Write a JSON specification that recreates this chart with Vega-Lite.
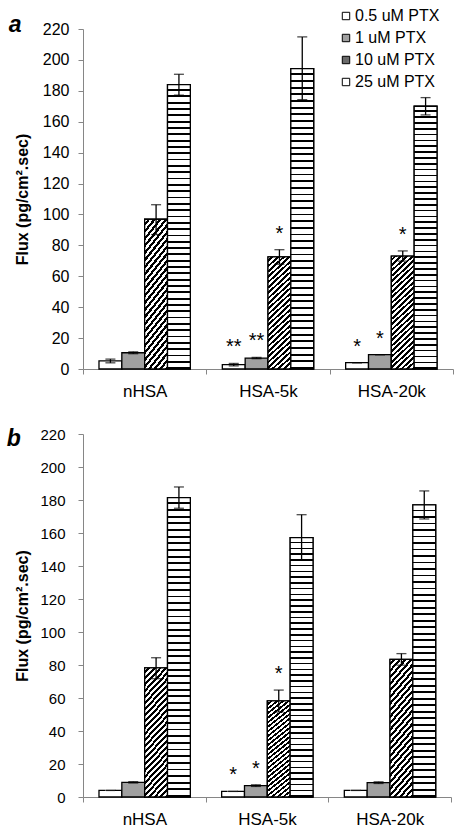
{
  "$schema": "https://vega.github.io/schema/vega-lite/v6.json",
  "padding": {"left": 6, "top": 8, "right": 2, "bottom": 2},
  "background": "white",
  "config": {
    "font": "Liberation Sans",
    "view": {"stroke": null},
    "axis": {"domainColor": "#868686", "tickColor": "#868686", "labelColor": "#000", "titleColor": "#000", "grid": false, "labelFont": "Liberation Sans", "titleFont": "Liberation Sans", "tickSize": 5}
  },
  "datasets": {
    "a": [
      {"group": "nHSA", "dose": "0.5 uM PTX", "value": 5.2, "lo": 4.0, "hi": 6.4, "sig": ""},
      {"group": "nHSA", "dose": "1 uM PTX", "value": 10.5, "lo": 9.9, "hi": 11.1, "sig": ""},
      {"group": "nHSA", "dose": "10 uM PTX", "value": 96.9, "lo": 87.0, "hi": 106.3, "sig": ""},
      {"group": "nHSA", "dose": "25 uM PTX", "value": 184.0, "lo": 177.2, "hi": 190.7, "sig": ""},
      {"group": "HSA-5k", "dose": "0.5 uM PTX", "value": 2.8, "lo": 2.0, "hi": 3.6, "sig": "**"},
      {"group": "HSA-5k", "dose": "1 uM PTX", "value": 7.1, "lo": 6.7, "hi": 7.5, "sig": "**"},
      {"group": "HSA-5k", "dose": "10 uM PTX", "value": 72.5, "lo": 67.8, "hi": 77.2, "sig": "*"},
      {"group": "HSA-5k", "dose": "25 uM PTX", "value": 194.4, "lo": 174.3, "hi": 214.9, "sig": ""},
      {"group": "HSA-20k", "dose": "0.5 uM PTX", "value": 4.1, "lo": 4.1, "hi": 4.1, "sig": "*"},
      {"group": "HSA-20k", "dose": "1 uM PTX", "value": 9.3, "lo": 9.3, "hi": 9.3, "sig": "*"},
      {"group": "HSA-20k", "dose": "10 uM PTX", "value": 73.1, "lo": 69.8, "hi": 76.4, "sig": "*"},
      {"group": "HSA-20k", "dose": "25 uM PTX", "value": 170.0, "lo": 164.4, "hi": 175.6, "sig": ""}
    ],
    "b": [
      {"group": "nHSA", "dose": "0.5 uM PTX", "value": 4.0, "lo": 4.0, "hi": 4.0, "sig": ""},
      {"group": "nHSA", "dose": "1 uM PTX", "value": 8.9, "lo": 8.5, "hi": 9.3, "sig": ""},
      {"group": "nHSA", "dose": "10 uM PTX", "value": 78.2, "lo": 71.7, "hi": 84.4, "sig": ""},
      {"group": "nHSA", "dose": "25 uM PTX", "value": 181.4, "lo": 175.0, "hi": 187.9, "sig": ""},
      {"group": "HSA-5k", "dose": "0.5 uM PTX", "value": 3.4, "lo": 3.4, "hi": 3.4, "sig": "*"},
      {"group": "HSA-5k", "dose": "1 uM PTX", "value": 6.9, "lo": 6.4, "hi": 7.4, "sig": "*"},
      {"group": "HSA-5k", "dose": "10 uM PTX", "value": 58.2, "lo": 51.5, "hi": 64.8, "sig": "*"},
      {"group": "HSA-5k", "dose": "25 uM PTX", "value": 157.2, "lo": 143.8, "hi": 171.1, "sig": ""},
      {"group": "HSA-20k", "dose": "0.5 uM PTX", "value": 4.0, "lo": 4.0, "hi": 4.0, "sig": ""},
      {"group": "HSA-20k", "dose": "1 uM PTX", "value": 8.7, "lo": 8.2, "hi": 9.2, "sig": ""},
      {"group": "HSA-20k", "dose": "10 uM PTX", "value": 83.4, "lo": 79.9, "hi": 86.9, "sig": ""},
      {"group": "HSA-20k", "dose": "25 uM PTX", "value": 177.0, "lo": 168.5, "hi": 185.5, "sig": ""}
    ]
  },
  "resolve": {"scale": {"color": "independent"}},
  "spacing": 28,
  "vconcat": [
    {
      "data": {"name": "a"},
      "width": 370,
      "height": 340,
      "title": {"text": "a", "orient": "left", "anchor": "end", "frame": "group", "angle": 0, "align": "right", "baseline": "alphabetic", "fontSize": 23, "fontStyle": "italic", "fontWeight": "bold", "font": "Liberation Sans", "color": "#000", "offset": -20, "dy": 3},
      "encoding": {
        "x": {"field": "group", "type": "nominal", "sort": ["nHSA", "HSA-5k", "HSA-20k"], "scale": {"domain": ["nHSA", "HSA-5k", "HSA-20k"], "paddingInner": 0, "paddingOuter": 0}, "axis": {"title": null, "labelAngle": 0, "labelFontSize": 17, "labelPadding": 9, "tickBand": "extent"}},
        "xOffset": {"field": "dose", "type": "nominal", "scale": {"domain": ["0.5 uM PTX", "1 uM PTX", "10 uM PTX", "25 uM PTX"], "paddingInner": 0, "paddingOuter": 0.7}}
      },
      "layer": [
        {
          "mark": {"type": "bar", "stroke": "#000", "strokeWidth": 1.3},
          "encoding": {
            "y": {"field": "value", "type": "quantitative", "title": "Flux  (pg/cm².sec)", "scale": {"domain": [0, 220], "nice": false}, "axis": {"values": [0, 20, 40, 60, 80, 100, 120, 140, 160, 180, 200, 220], "tickCount": 12, "labelOverlap": false, "labelFontSize": 16, "labelPadding": 9, "titleFontSize": 16, "titleFontWeight": "bold", "titlePadding": 12}},
            "color": {
              "field": "dose", "type": "nominal",
              "scale": {"domain": ["0.5 uM PTX", "1 uM PTX", "10 uM PTX", "25 uM PTX"], "range": ["#ffffff", "#a0a0a0", "#6a6a6a", "#ffffff"]},
              "legend": {"title": null, "orient": "none", "legendX": 255, "legendY": -21, "symbolType": "square", "symbolSize": 55, "symbolStrokeColor": "#000", "symbolStrokeWidth": 1, "symbolOpacity": 1, "labelFontSize": 16, "labelOffset": 1, "rowPadding": 6, "padding": 0, "labelColor": "#000", "labelFont": "Liberation Sans"}
            }
          }
        },
        {
          "transform": [{"filter": "datum.dose === '10 uM PTX'"}],
          "mark": {"type": "bar", "stroke": "#000", "strokeWidth": 1.3, "fill": {"gradient": "linear", "x1": 0, "y1": 0, "x2": 0.218, "y2": 1.149, "stops": [
            {"offset": 0, "color": "#fff"}, {"offset": 0.02, "color": "#fff"}, {"offset": 0.02, "color": "#000"}, {"offset": 0.04, "color": "#000"},
            {"offset": 0.04, "color": "#fff"}, {"offset": 0.06, "color": "#fff"}, {"offset": 0.06, "color": "#000"}, {"offset": 0.08, "color": "#000"},
            {"offset": 0.08, "color": "#fff"}, {"offset": 0.1, "color": "#fff"}, {"offset": 0.1, "color": "#000"}, {"offset": 0.12, "color": "#000"},
            {"offset": 0.12, "color": "#fff"}, {"offset": 0.14, "color": "#fff"}, {"offset": 0.14, "color": "#000"}, {"offset": 0.16, "color": "#000"},
            {"offset": 0.16, "color": "#fff"}, {"offset": 0.18, "color": "#fff"}, {"offset": 0.18, "color": "#000"}, {"offset": 0.2, "color": "#000"},
            {"offset": 0.2, "color": "#fff"}, {"offset": 0.22, "color": "#fff"}, {"offset": 0.22, "color": "#000"}, {"offset": 0.24, "color": "#000"},
            {"offset": 0.24, "color": "#fff"}, {"offset": 0.26, "color": "#fff"}, {"offset": 0.26, "color": "#000"}, {"offset": 0.28, "color": "#000"},
            {"offset": 0.28, "color": "#fff"}, {"offset": 0.3, "color": "#fff"}, {"offset": 0.3, "color": "#000"}, {"offset": 0.32, "color": "#000"},
            {"offset": 0.32, "color": "#fff"}, {"offset": 0.34, "color": "#fff"}, {"offset": 0.34, "color": "#000"}, {"offset": 0.36, "color": "#000"},
            {"offset": 0.36, "color": "#fff"}, {"offset": 0.38, "color": "#fff"}, {"offset": 0.38, "color": "#000"}, {"offset": 0.4, "color": "#000"},
            {"offset": 0.4, "color": "#fff"}, {"offset": 0.42, "color": "#fff"}, {"offset": 0.42, "color": "#000"}, {"offset": 0.44, "color": "#000"},
            {"offset": 0.44, "color": "#fff"}, {"offset": 0.46, "color": "#fff"}, {"offset": 0.46, "color": "#000"}, {"offset": 0.48, "color": "#000"},
            {"offset": 0.48, "color": "#fff"}, {"offset": 0.5, "color": "#fff"}, {"offset": 0.5, "color": "#000"}, {"offset": 0.52, "color": "#000"},
            {"offset": 0.52, "color": "#fff"}, {"offset": 0.54, "color": "#fff"}, {"offset": 0.54, "color": "#000"}, {"offset": 0.56, "color": "#000"},
            {"offset": 0.56, "color": "#fff"}, {"offset": 0.58, "color": "#fff"}, {"offset": 0.58, "color": "#000"}, {"offset": 0.6, "color": "#000"},
            {"offset": 0.6, "color": "#fff"}, {"offset": 0.62, "color": "#fff"}, {"offset": 0.62, "color": "#000"}, {"offset": 0.64, "color": "#000"},
            {"offset": 0.64, "color": "#fff"}, {"offset": 0.66, "color": "#fff"}, {"offset": 0.66, "color": "#000"}, {"offset": 0.68, "color": "#000"},
            {"offset": 0.68, "color": "#fff"}, {"offset": 0.7, "color": "#fff"}, {"offset": 0.7, "color": "#000"}, {"offset": 0.72, "color": "#000"},
            {"offset": 0.72, "color": "#fff"}, {"offset": 0.74, "color": "#fff"}, {"offset": 0.74, "color": "#000"}, {"offset": 0.76, "color": "#000"},
            {"offset": 0.76, "color": "#fff"}, {"offset": 0.78, "color": "#fff"}, {"offset": 0.78, "color": "#000"}, {"offset": 0.8, "color": "#000"},
            {"offset": 0.8, "color": "#fff"}, {"offset": 0.82, "color": "#fff"}, {"offset": 0.82, "color": "#000"}, {"offset": 0.84, "color": "#000"},
            {"offset": 0.84, "color": "#fff"}, {"offset": 0.86, "color": "#fff"}, {"offset": 0.86, "color": "#000"}, {"offset": 0.88, "color": "#000"},
            {"offset": 0.88, "color": "#fff"}, {"offset": 0.9, "color": "#fff"}, {"offset": 0.9, "color": "#000"}, {"offset": 0.92, "color": "#000"},
            {"offset": 0.92, "color": "#fff"}, {"offset": 0.94, "color": "#fff"}, {"offset": 0.94, "color": "#000"}, {"offset": 0.96, "color": "#000"},
            {"offset": 0.96, "color": "#fff"}, {"offset": 0.98, "color": "#fff"}, {"offset": 0.98, "color": "#000"}, {"offset": 1, "color": "#000"}
          ]}},
          "encoding": {"y": {"field": "value", "type": "quantitative", "title": "Flux  (pg/cm².sec)", "axis": {"values": [0, 20, 40, 60, 80, 100, 120, 140, 160, 180, 200, 220], "tickCount": 12, "labelOverlap": false, "labelFontSize": 16, "labelPadding": 9, "titleFontSize": 16, "titleFontWeight": "bold", "titlePadding": 12}}}
        },
        {
          "transform": [{"filter": "datum.dose === '25 uM PTX'"}],
          "mark": {"type": "bar", "stroke": "#000", "strokeWidth": 1.3, "fill": {"gradient": "linear", "x1": 0, "y1": 0, "x2": 0, "y2": 1, "stops": [
            {"offset": 0, "color": "#fff"}, {"offset": 0.016, "color": "#fff"}, {"offset": 0.016, "color": "#000"}, {"offset": 0.0222, "color": "#000"},
            {"offset": 0.0222, "color": "#fff"}, {"offset": 0.0382, "color": "#fff"}, {"offset": 0.0382, "color": "#000"}, {"offset": 0.0444, "color": "#000"},
            {"offset": 0.0444, "color": "#fff"}, {"offset": 0.0604, "color": "#fff"}, {"offset": 0.0604, "color": "#000"}, {"offset": 0.0667, "color": "#000"},
            {"offset": 0.0667, "color": "#fff"}, {"offset": 0.0827, "color": "#fff"}, {"offset": 0.0827, "color": "#000"}, {"offset": 0.0889, "color": "#000"},
            {"offset": 0.0889, "color": "#fff"}, {"offset": 0.1049, "color": "#fff"}, {"offset": 0.1049, "color": "#000"}, {"offset": 0.1111, "color": "#000"},
            {"offset": 0.1111, "color": "#fff"}, {"offset": 0.1271, "color": "#fff"}, {"offset": 0.1271, "color": "#000"}, {"offset": 0.1333, "color": "#000"},
            {"offset": 0.1333, "color": "#fff"}, {"offset": 0.1493, "color": "#fff"}, {"offset": 0.1493, "color": "#000"}, {"offset": 0.1556, "color": "#000"},
            {"offset": 0.1556, "color": "#fff"}, {"offset": 0.1716, "color": "#fff"}, {"offset": 0.1716, "color": "#000"}, {"offset": 0.1778, "color": "#000"},
            {"offset": 0.1778, "color": "#fff"}, {"offset": 0.1938, "color": "#fff"}, {"offset": 0.1938, "color": "#000"}, {"offset": 0.2, "color": "#000"},
            {"offset": 0.2, "color": "#fff"}, {"offset": 0.216, "color": "#fff"}, {"offset": 0.216, "color": "#000"}, {"offset": 0.2222, "color": "#000"},
            {"offset": 0.2222, "color": "#fff"}, {"offset": 0.2382, "color": "#fff"}, {"offset": 0.2382, "color": "#000"}, {"offset": 0.2444, "color": "#000"},
            {"offset": 0.2444, "color": "#fff"}, {"offset": 0.2604, "color": "#fff"}, {"offset": 0.2604, "color": "#000"}, {"offset": 0.2667, "color": "#000"},
            {"offset": 0.2667, "color": "#fff"}, {"offset": 0.2827, "color": "#fff"}, {"offset": 0.2827, "color": "#000"}, {"offset": 0.2889, "color": "#000"},
            {"offset": 0.2889, "color": "#fff"}, {"offset": 0.3049, "color": "#fff"}, {"offset": 0.3049, "color": "#000"}, {"offset": 0.3111, "color": "#000"},
            {"offset": 0.3111, "color": "#fff"}, {"offset": 0.3271, "color": "#fff"}, {"offset": 0.3271, "color": "#000"}, {"offset": 0.3333, "color": "#000"},
            {"offset": 0.3333, "color": "#fff"}, {"offset": 0.3493, "color": "#fff"}, {"offset": 0.3493, "color": "#000"}, {"offset": 0.3556, "color": "#000"},
            {"offset": 0.3556, "color": "#fff"}, {"offset": 0.3716, "color": "#fff"}, {"offset": 0.3716, "color": "#000"}, {"offset": 0.3778, "color": "#000"},
            {"offset": 0.3778, "color": "#fff"}, {"offset": 0.3938, "color": "#fff"}, {"offset": 0.3938, "color": "#000"}, {"offset": 0.4, "color": "#000"},
            {"offset": 0.4, "color": "#fff"}, {"offset": 0.416, "color": "#fff"}, {"offset": 0.416, "color": "#000"}, {"offset": 0.4222, "color": "#000"},
            {"offset": 0.4222, "color": "#fff"}, {"offset": 0.4382, "color": "#fff"}, {"offset": 0.4382, "color": "#000"}, {"offset": 0.4444, "color": "#000"},
            {"offset": 0.4444, "color": "#fff"}, {"offset": 0.4604, "color": "#fff"}, {"offset": 0.4604, "color": "#000"}, {"offset": 0.4667, "color": "#000"},
            {"offset": 0.4667, "color": "#fff"}, {"offset": 0.4827, "color": "#fff"}, {"offset": 0.4827, "color": "#000"}, {"offset": 0.4889, "color": "#000"},
            {"offset": 0.4889, "color": "#fff"}, {"offset": 0.5049, "color": "#fff"}, {"offset": 0.5049, "color": "#000"}, {"offset": 0.5111, "color": "#000"},
            {"offset": 0.5111, "color": "#fff"}, {"offset": 0.5271, "color": "#fff"}, {"offset": 0.5271, "color": "#000"}, {"offset": 0.5333, "color": "#000"},
            {"offset": 0.5333, "color": "#fff"}, {"offset": 0.5493, "color": "#fff"}, {"offset": 0.5493, "color": "#000"}, {"offset": 0.5556, "color": "#000"},
            {"offset": 0.5556, "color": "#fff"}, {"offset": 0.5716, "color": "#fff"}, {"offset": 0.5716, "color": "#000"}, {"offset": 0.5778, "color": "#000"},
            {"offset": 0.5778, "color": "#fff"}, {"offset": 0.5938, "color": "#fff"}, {"offset": 0.5938, "color": "#000"}, {"offset": 0.6, "color": "#000"},
            {"offset": 0.6, "color": "#fff"}, {"offset": 0.616, "color": "#fff"}, {"offset": 0.616, "color": "#000"}, {"offset": 0.6222, "color": "#000"},
            {"offset": 0.6222, "color": "#fff"}, {"offset": 0.6382, "color": "#fff"}, {"offset": 0.6382, "color": "#000"}, {"offset": 0.6444, "color": "#000"},
            {"offset": 0.6444, "color": "#fff"}, {"offset": 0.6604, "color": "#fff"}, {"offset": 0.6604, "color": "#000"}, {"offset": 0.6667, "color": "#000"},
            {"offset": 0.6667, "color": "#fff"}, {"offset": 0.6827, "color": "#fff"}, {"offset": 0.6827, "color": "#000"}, {"offset": 0.6889, "color": "#000"},
            {"offset": 0.6889, "color": "#fff"}, {"offset": 0.7049, "color": "#fff"}, {"offset": 0.7049, "color": "#000"}, {"offset": 0.7111, "color": "#000"},
            {"offset": 0.7111, "color": "#fff"}, {"offset": 0.7271, "color": "#fff"}, {"offset": 0.7271, "color": "#000"}, {"offset": 0.7333, "color": "#000"},
            {"offset": 0.7333, "color": "#fff"}, {"offset": 0.7493, "color": "#fff"}, {"offset": 0.7493, "color": "#000"}, {"offset": 0.7556, "color": "#000"},
            {"offset": 0.7556, "color": "#fff"}, {"offset": 0.7716, "color": "#fff"}, {"offset": 0.7716, "color": "#000"}, {"offset": 0.7778, "color": "#000"},
            {"offset": 0.7778, "color": "#fff"}, {"offset": 0.7938, "color": "#fff"}, {"offset": 0.7938, "color": "#000"}, {"offset": 0.8, "color": "#000"},
            {"offset": 0.8, "color": "#fff"}, {"offset": 0.816, "color": "#fff"}, {"offset": 0.816, "color": "#000"}, {"offset": 0.8222, "color": "#000"},
            {"offset": 0.8222, "color": "#fff"}, {"offset": 0.8382, "color": "#fff"}, {"offset": 0.8382, "color": "#000"}, {"offset": 0.8444, "color": "#000"},
            {"offset": 0.8444, "color": "#fff"}, {"offset": 0.8604, "color": "#fff"}, {"offset": 0.8604, "color": "#000"}, {"offset": 0.8667, "color": "#000"},
            {"offset": 0.8667, "color": "#fff"}, {"offset": 0.8827, "color": "#fff"}, {"offset": 0.8827, "color": "#000"}, {"offset": 0.8889, "color": "#000"},
            {"offset": 0.8889, "color": "#fff"}, {"offset": 0.9049, "color": "#fff"}, {"offset": 0.9049, "color": "#000"}, {"offset": 0.9111, "color": "#000"},
            {"offset": 0.9111, "color": "#fff"}, {"offset": 0.9271, "color": "#fff"}, {"offset": 0.9271, "color": "#000"}, {"offset": 0.9333, "color": "#000"},
            {"offset": 0.9333, "color": "#fff"}, {"offset": 0.9493, "color": "#fff"}, {"offset": 0.9493, "color": "#000"}, {"offset": 0.9556, "color": "#000"},
            {"offset": 0.9556, "color": "#fff"}, {"offset": 0.9716, "color": "#fff"}, {"offset": 0.9716, "color": "#000"}, {"offset": 0.9778, "color": "#000"},
            {"offset": 0.9778, "color": "#fff"}, {"offset": 0.9938, "color": "#fff"}, {"offset": 0.9938, "color": "#000"}, {"offset": 1, "color": "#000"}
          ]}},
          "encoding": {"y": {"field": "value", "type": "quantitative", "title": "Flux  (pg/cm².sec)", "axis": {"values": [0, 20, 40, 60, 80, 100, 120, 140, 160, 180, 200, 220], "tickCount": 12, "labelOverlap": false, "labelFontSize": 16, "labelPadding": 9, "titleFontSize": 16, "titleFontWeight": "bold", "titlePadding": 12}}}
        },
        {
          "mark": {"type": "rule", "color": "#000", "strokeWidth": 1.3},
          "encoding": {"y": {"field": "lo", "type": "quantitative", "title": "Flux  (pg/cm².sec)", "axis": {"values": [0, 20, 40, 60, 80, 100, 120, 140, 160, 180, 200, 220], "tickCount": 12, "labelOverlap": false, "labelFontSize": 16, "labelPadding": 9, "titleFontSize": 16, "titleFontWeight": "bold", "titlePadding": 12}}, "y2": {"field": "hi"}}
        },
        {
          "mark": {"type": "tick", "color": "#000", "thickness": 1.3, "size": 10},
          "encoding": {"y": {"field": "lo", "type": "quantitative", "title": "Flux  (pg/cm².sec)", "axis": {"values": [0, 20, 40, 60, 80, 100, 120, 140, 160, 180, 200, 220], "tickCount": 12, "labelOverlap": false, "labelFontSize": 16, "labelPadding": 9, "titleFontSize": 16, "titleFontWeight": "bold", "titlePadding": 12}}}
        },
        {
          "mark": {"type": "tick", "color": "#000", "thickness": 1.3, "size": 10},
          "encoding": {"y": {"field": "hi", "type": "quantitative", "title": "Flux  (pg/cm².sec)", "axis": {"values": [0, 20, 40, 60, 80, 100, 120, 140, 160, 180, 200, 220], "tickCount": 12, "labelOverlap": false, "labelFontSize": 16, "labelPadding": 9, "titleFontSize": 16, "titleFontWeight": "bold", "titlePadding": 12}}}
        },
        {
          "transform": [{"filter": "datum.sig != ''"}],
          "mark": {"type": "text", "fontSize": 20, "dy": -10, "baseline": "alphabetic", "color": "#000", "font": "Liberation Sans"},
          "encoding": {"y": {"field": "hi", "type": "quantitative", "title": "Flux  (pg/cm².sec)", "axis": {"values": [0, 20, 40, 60, 80, 100, 120, 140, 160, 180, 200, 220], "tickCount": 12, "labelOverlap": false, "labelFontSize": 16, "labelPadding": 9, "titleFontSize": 16, "titleFontWeight": "bold", "titlePadding": 12}}, "text": {"field": "sig"}}
        }
      ]
    },
    {
      "data": {"name": "b"},
      "width": 368,
      "height": 363,
      "title": {"text": "b", "orient": "left", "anchor": "end", "frame": "group", "angle": 0, "align": "right", "baseline": "alphabetic", "fontSize": 23, "fontStyle": "italic", "fontWeight": "bold", "font": "Liberation Sans", "color": "#000", "offset": -20, "dy": 12},
      "encoding": {
        "x": {"field": "group", "type": "nominal", "sort": ["nHSA", "HSA-5k", "HSA-20k"], "scale": {"domain": ["nHSA", "HSA-5k", "HSA-20k"], "paddingInner": 0, "paddingOuter": 0}, "axis": {"title": null, "labelAngle": 0, "labelFontSize": 17, "labelPadding": 9, "tickBand": "extent"}},
        "xOffset": {"field": "dose", "type": "nominal", "scale": {"domain": ["0.5 uM PTX", "1 uM PTX", "10 uM PTX", "25 uM PTX"], "paddingInner": 0, "paddingOuter": 0.7}}
      },
      "layer": [
        {
          "mark": {"type": "bar", "stroke": "#000", "strokeWidth": 1.3},
          "encoding": {
            "y": {"field": "value", "type": "quantitative", "title": "Flux  (pg/cm².sec)", "scale": {"domain": [0, 220], "nice": false}, "axis": {"values": [0, 20, 40, 60, 80, 100, 120, 140, 160, 180, 200, 220], "tickCount": 12, "labelOverlap": false, "labelFontSize": 15, "labelPadding": 13, "titleFontSize": 16, "titleFontWeight": "bold", "titlePadding": 9}},
            "strokeDash": {"condition": {"test": "datum.dose === '0.5 uM PTX'", "value": [6, 10, 200]}, "value": [1, 0]},
            "color": {
              "field": "dose", "type": "nominal", "legend": null,
              "scale": {"domain": ["0.5 uM PTX", "1 uM PTX", "10 uM PTX", "25 uM PTX"], "range": ["#ffffff", "#a0a0a0", "#6a6a6a", "#ffffff"]}
            }
          }
        },
        {
          "transform": [{"filter": "datum.dose === '10 uM PTX'"}],
          "mark": {"type": "bar", "stroke": "#000", "strokeWidth": 1.3, "fill": {"gradient": "linear", "x1": 0, "y1": 0, "x2": 0.218, "y2": 1.149, "stops": [
            {"offset": 0, "color": "#fff"}, {"offset": 0.02, "color": "#fff"}, {"offset": 0.02, "color": "#000"}, {"offset": 0.04, "color": "#000"},
            {"offset": 0.04, "color": "#fff"}, {"offset": 0.06, "color": "#fff"}, {"offset": 0.06, "color": "#000"}, {"offset": 0.08, "color": "#000"},
            {"offset": 0.08, "color": "#fff"}, {"offset": 0.1, "color": "#fff"}, {"offset": 0.1, "color": "#000"}, {"offset": 0.12, "color": "#000"},
            {"offset": 0.12, "color": "#fff"}, {"offset": 0.14, "color": "#fff"}, {"offset": 0.14, "color": "#000"}, {"offset": 0.16, "color": "#000"},
            {"offset": 0.16, "color": "#fff"}, {"offset": 0.18, "color": "#fff"}, {"offset": 0.18, "color": "#000"}, {"offset": 0.2, "color": "#000"},
            {"offset": 0.2, "color": "#fff"}, {"offset": 0.22, "color": "#fff"}, {"offset": 0.22, "color": "#000"}, {"offset": 0.24, "color": "#000"},
            {"offset": 0.24, "color": "#fff"}, {"offset": 0.26, "color": "#fff"}, {"offset": 0.26, "color": "#000"}, {"offset": 0.28, "color": "#000"},
            {"offset": 0.28, "color": "#fff"}, {"offset": 0.3, "color": "#fff"}, {"offset": 0.3, "color": "#000"}, {"offset": 0.32, "color": "#000"},
            {"offset": 0.32, "color": "#fff"}, {"offset": 0.34, "color": "#fff"}, {"offset": 0.34, "color": "#000"}, {"offset": 0.36, "color": "#000"},
            {"offset": 0.36, "color": "#fff"}, {"offset": 0.38, "color": "#fff"}, {"offset": 0.38, "color": "#000"}, {"offset": 0.4, "color": "#000"},
            {"offset": 0.4, "color": "#fff"}, {"offset": 0.42, "color": "#fff"}, {"offset": 0.42, "color": "#000"}, {"offset": 0.44, "color": "#000"},
            {"offset": 0.44, "color": "#fff"}, {"offset": 0.46, "color": "#fff"}, {"offset": 0.46, "color": "#000"}, {"offset": 0.48, "color": "#000"},
            {"offset": 0.48, "color": "#fff"}, {"offset": 0.5, "color": "#fff"}, {"offset": 0.5, "color": "#000"}, {"offset": 0.52, "color": "#000"},
            {"offset": 0.52, "color": "#fff"}, {"offset": 0.54, "color": "#fff"}, {"offset": 0.54, "color": "#000"}, {"offset": 0.56, "color": "#000"},
            {"offset": 0.56, "color": "#fff"}, {"offset": 0.58, "color": "#fff"}, {"offset": 0.58, "color": "#000"}, {"offset": 0.6, "color": "#000"},
            {"offset": 0.6, "color": "#fff"}, {"offset": 0.62, "color": "#fff"}, {"offset": 0.62, "color": "#000"}, {"offset": 0.64, "color": "#000"},
            {"offset": 0.64, "color": "#fff"}, {"offset": 0.66, "color": "#fff"}, {"offset": 0.66, "color": "#000"}, {"offset": 0.68, "color": "#000"},
            {"offset": 0.68, "color": "#fff"}, {"offset": 0.7, "color": "#fff"}, {"offset": 0.7, "color": "#000"}, {"offset": 0.72, "color": "#000"},
            {"offset": 0.72, "color": "#fff"}, {"offset": 0.74, "color": "#fff"}, {"offset": 0.74, "color": "#000"}, {"offset": 0.76, "color": "#000"},
            {"offset": 0.76, "color": "#fff"}, {"offset": 0.78, "color": "#fff"}, {"offset": 0.78, "color": "#000"}, {"offset": 0.8, "color": "#000"},
            {"offset": 0.8, "color": "#fff"}, {"offset": 0.82, "color": "#fff"}, {"offset": 0.82, "color": "#000"}, {"offset": 0.84, "color": "#000"},
            {"offset": 0.84, "color": "#fff"}, {"offset": 0.86, "color": "#fff"}, {"offset": 0.86, "color": "#000"}, {"offset": 0.88, "color": "#000"},
            {"offset": 0.88, "color": "#fff"}, {"offset": 0.9, "color": "#fff"}, {"offset": 0.9, "color": "#000"}, {"offset": 0.92, "color": "#000"},
            {"offset": 0.92, "color": "#fff"}, {"offset": 0.94, "color": "#fff"}, {"offset": 0.94, "color": "#000"}, {"offset": 0.96, "color": "#000"},
            {"offset": 0.96, "color": "#fff"}, {"offset": 0.98, "color": "#fff"}, {"offset": 0.98, "color": "#000"}, {"offset": 1, "color": "#000"}
          ]}},
          "encoding": {"y": {"field": "value", "type": "quantitative", "title": "Flux  (pg/cm².sec)", "axis": {"values": [0, 20, 40, 60, 80, 100, 120, 140, 160, 180, 200, 220], "tickCount": 12, "labelOverlap": false, "labelFontSize": 15, "labelPadding": 13, "titleFontSize": 16, "titleFontWeight": "bold", "titlePadding": 9}}}
        },
        {
          "transform": [{"filter": "datum.dose === '25 uM PTX'"}],
          "mark": {"type": "bar", "stroke": "#000", "strokeWidth": 1.3, "fill": {"gradient": "linear", "x1": 0, "y1": 0, "x2": 0, "y2": 1, "stops": [
            {"offset": 0, "color": "#fff"}, {"offset": 0.016, "color": "#fff"}, {"offset": 0.016, "color": "#000"}, {"offset": 0.0222, "color": "#000"},
            {"offset": 0.0222, "color": "#fff"}, {"offset": 0.0382, "color": "#fff"}, {"offset": 0.0382, "color": "#000"}, {"offset": 0.0444, "color": "#000"},
            {"offset": 0.0444, "color": "#fff"}, {"offset": 0.0604, "color": "#fff"}, {"offset": 0.0604, "color": "#000"}, {"offset": 0.0667, "color": "#000"},
            {"offset": 0.0667, "color": "#fff"}, {"offset": 0.0827, "color": "#fff"}, {"offset": 0.0827, "color": "#000"}, {"offset": 0.0889, "color": "#000"},
            {"offset": 0.0889, "color": "#fff"}, {"offset": 0.1049, "color": "#fff"}, {"offset": 0.1049, "color": "#000"}, {"offset": 0.1111, "color": "#000"},
            {"offset": 0.1111, "color": "#fff"}, {"offset": 0.1271, "color": "#fff"}, {"offset": 0.1271, "color": "#000"}, {"offset": 0.1333, "color": "#000"},
            {"offset": 0.1333, "color": "#fff"}, {"offset": 0.1493, "color": "#fff"}, {"offset": 0.1493, "color": "#000"}, {"offset": 0.1556, "color": "#000"},
            {"offset": 0.1556, "color": "#fff"}, {"offset": 0.1716, "color": "#fff"}, {"offset": 0.1716, "color": "#000"}, {"offset": 0.1778, "color": "#000"},
            {"offset": 0.1778, "color": "#fff"}, {"offset": 0.1938, "color": "#fff"}, {"offset": 0.1938, "color": "#000"}, {"offset": 0.2, "color": "#000"},
            {"offset": 0.2, "color": "#fff"}, {"offset": 0.216, "color": "#fff"}, {"offset": 0.216, "color": "#000"}, {"offset": 0.2222, "color": "#000"},
            {"offset": 0.2222, "color": "#fff"}, {"offset": 0.2382, "color": "#fff"}, {"offset": 0.2382, "color": "#000"}, {"offset": 0.2444, "color": "#000"},
            {"offset": 0.2444, "color": "#fff"}, {"offset": 0.2604, "color": "#fff"}, {"offset": 0.2604, "color": "#000"}, {"offset": 0.2667, "color": "#000"},
            {"offset": 0.2667, "color": "#fff"}, {"offset": 0.2827, "color": "#fff"}, {"offset": 0.2827, "color": "#000"}, {"offset": 0.2889, "color": "#000"},
            {"offset": 0.2889, "color": "#fff"}, {"offset": 0.3049, "color": "#fff"}, {"offset": 0.3049, "color": "#000"}, {"offset": 0.3111, "color": "#000"},
            {"offset": 0.3111, "color": "#fff"}, {"offset": 0.3271, "color": "#fff"}, {"offset": 0.3271, "color": "#000"}, {"offset": 0.3333, "color": "#000"},
            {"offset": 0.3333, "color": "#fff"}, {"offset": 0.3493, "color": "#fff"}, {"offset": 0.3493, "color": "#000"}, {"offset": 0.3556, "color": "#000"},
            {"offset": 0.3556, "color": "#fff"}, {"offset": 0.3716, "color": "#fff"}, {"offset": 0.3716, "color": "#000"}, {"offset": 0.3778, "color": "#000"},
            {"offset": 0.3778, "color": "#fff"}, {"offset": 0.3938, "color": "#fff"}, {"offset": 0.3938, "color": "#000"}, {"offset": 0.4, "color": "#000"},
            {"offset": 0.4, "color": "#fff"}, {"offset": 0.416, "color": "#fff"}, {"offset": 0.416, "color": "#000"}, {"offset": 0.4222, "color": "#000"},
            {"offset": 0.4222, "color": "#fff"}, {"offset": 0.4382, "color": "#fff"}, {"offset": 0.4382, "color": "#000"}, {"offset": 0.4444, "color": "#000"},
            {"offset": 0.4444, "color": "#fff"}, {"offset": 0.4604, "color": "#fff"}, {"offset": 0.4604, "color": "#000"}, {"offset": 0.4667, "color": "#000"},
            {"offset": 0.4667, "color": "#fff"}, {"offset": 0.4827, "color": "#fff"}, {"offset": 0.4827, "color": "#000"}, {"offset": 0.4889, "color": "#000"},
            {"offset": 0.4889, "color": "#fff"}, {"offset": 0.5049, "color": "#fff"}, {"offset": 0.5049, "color": "#000"}, {"offset": 0.5111, "color": "#000"},
            {"offset": 0.5111, "color": "#fff"}, {"offset": 0.5271, "color": "#fff"}, {"offset": 0.5271, "color": "#000"}, {"offset": 0.5333, "color": "#000"},
            {"offset": 0.5333, "color": "#fff"}, {"offset": 0.5493, "color": "#fff"}, {"offset": 0.5493, "color": "#000"}, {"offset": 0.5556, "color": "#000"},
            {"offset": 0.5556, "color": "#fff"}, {"offset": 0.5716, "color": "#fff"}, {"offset": 0.5716, "color": "#000"}, {"offset": 0.5778, "color": "#000"},
            {"offset": 0.5778, "color": "#fff"}, {"offset": 0.5938, "color": "#fff"}, {"offset": 0.5938, "color": "#000"}, {"offset": 0.6, "color": "#000"},
            {"offset": 0.6, "color": "#fff"}, {"offset": 0.616, "color": "#fff"}, {"offset": 0.616, "color": "#000"}, {"offset": 0.6222, "color": "#000"},
            {"offset": 0.6222, "color": "#fff"}, {"offset": 0.6382, "color": "#fff"}, {"offset": 0.6382, "color": "#000"}, {"offset": 0.6444, "color": "#000"},
            {"offset": 0.6444, "color": "#fff"}, {"offset": 0.6604, "color": "#fff"}, {"offset": 0.6604, "color": "#000"}, {"offset": 0.6667, "color": "#000"},
            {"offset": 0.6667, "color": "#fff"}, {"offset": 0.6827, "color": "#fff"}, {"offset": 0.6827, "color": "#000"}, {"offset": 0.6889, "color": "#000"},
            {"offset": 0.6889, "color": "#fff"}, {"offset": 0.7049, "color": "#fff"}, {"offset": 0.7049, "color": "#000"}, {"offset": 0.7111, "color": "#000"},
            {"offset": 0.7111, "color": "#fff"}, {"offset": 0.7271, "color": "#fff"}, {"offset": 0.7271, "color": "#000"}, {"offset": 0.7333, "color": "#000"},
            {"offset": 0.7333, "color": "#fff"}, {"offset": 0.7493, "color": "#fff"}, {"offset": 0.7493, "color": "#000"}, {"offset": 0.7556, "color": "#000"},
            {"offset": 0.7556, "color": "#fff"}, {"offset": 0.7716, "color": "#fff"}, {"offset": 0.7716, "color": "#000"}, {"offset": 0.7778, "color": "#000"},
            {"offset": 0.7778, "color": "#fff"}, {"offset": 0.7938, "color": "#fff"}, {"offset": 0.7938, "color": "#000"}, {"offset": 0.8, "color": "#000"},
            {"offset": 0.8, "color": "#fff"}, {"offset": 0.816, "color": "#fff"}, {"offset": 0.816, "color": "#000"}, {"offset": 0.8222, "color": "#000"},
            {"offset": 0.8222, "color": "#fff"}, {"offset": 0.8382, "color": "#fff"}, {"offset": 0.8382, "color": "#000"}, {"offset": 0.8444, "color": "#000"},
            {"offset": 0.8444, "color": "#fff"}, {"offset": 0.8604, "color": "#fff"}, {"offset": 0.8604, "color": "#000"}, {"offset": 0.8667, "color": "#000"},
            {"offset": 0.8667, "color": "#fff"}, {"offset": 0.8827, "color": "#fff"}, {"offset": 0.8827, "color": "#000"}, {"offset": 0.8889, "color": "#000"},
            {"offset": 0.8889, "color": "#fff"}, {"offset": 0.9049, "color": "#fff"}, {"offset": 0.9049, "color": "#000"}, {"offset": 0.9111, "color": "#000"},
            {"offset": 0.9111, "color": "#fff"}, {"offset": 0.9271, "color": "#fff"}, {"offset": 0.9271, "color": "#000"}, {"offset": 0.9333, "color": "#000"},
            {"offset": 0.9333, "color": "#fff"}, {"offset": 0.9493, "color": "#fff"}, {"offset": 0.9493, "color": "#000"}, {"offset": 0.9556, "color": "#000"},
            {"offset": 0.9556, "color": "#fff"}, {"offset": 0.9716, "color": "#fff"}, {"offset": 0.9716, "color": "#000"}, {"offset": 0.9778, "color": "#000"},
            {"offset": 0.9778, "color": "#fff"}, {"offset": 0.9938, "color": "#fff"}, {"offset": 0.9938, "color": "#000"}, {"offset": 1, "color": "#000"}
          ]}},
          "encoding": {"y": {"field": "value", "type": "quantitative", "title": "Flux  (pg/cm².sec)", "axis": {"values": [0, 20, 40, 60, 80, 100, 120, 140, 160, 180, 200, 220], "tickCount": 12, "labelOverlap": false, "labelFontSize": 15, "labelPadding": 13, "titleFontSize": 16, "titleFontWeight": "bold", "titlePadding": 9}}}
        },
        {
          "mark": {"type": "rule", "color": "#000", "strokeWidth": 1.3},
          "encoding": {"y": {"field": "lo", "type": "quantitative", "title": "Flux  (pg/cm².sec)", "axis": {"values": [0, 20, 40, 60, 80, 100, 120, 140, 160, 180, 200, 220], "tickCount": 12, "labelOverlap": false, "labelFontSize": 15, "labelPadding": 13, "titleFontSize": 16, "titleFontWeight": "bold", "titlePadding": 9}}, "y2": {"field": "hi"}}
        },
        {
          "mark": {"type": "tick", "color": "#000", "thickness": 1.3, "size": 10},
          "encoding": {"y": {"field": "lo", "type": "quantitative", "title": "Flux  (pg/cm².sec)", "axis": {"values": [0, 20, 40, 60, 80, 100, 120, 140, 160, 180, 200, 220], "tickCount": 12, "labelOverlap": false, "labelFontSize": 15, "labelPadding": 13, "titleFontSize": 16, "titleFontWeight": "bold", "titlePadding": 9}}}
        },
        {
          "mark": {"type": "tick", "color": "#000", "thickness": 1.3, "size": 10},
          "encoding": {"y": {"field": "hi", "type": "quantitative", "title": "Flux  (pg/cm².sec)", "axis": {"values": [0, 20, 40, 60, 80, 100, 120, 140, 160, 180, 200, 220], "tickCount": 12, "labelOverlap": false, "labelFontSize": 15, "labelPadding": 13, "titleFontSize": 16, "titleFontWeight": "bold", "titlePadding": 9}}}
        },
        {
          "transform": [{"filter": "datum.sig != ''"}],
          "mark": {"type": "text", "fontSize": 20, "dy": -10, "baseline": "alphabetic", "color": "#000", "font": "Liberation Sans"},
          "encoding": {"y": {"field": "hi", "type": "quantitative", "title": "Flux  (pg/cm².sec)", "axis": {"values": [0, 20, 40, 60, 80, 100, 120, 140, 160, 180, 200, 220], "tickCount": 12, "labelOverlap": false, "labelFontSize": 15, "labelPadding": 13, "titleFontSize": 16, "titleFontWeight": "bold", "titlePadding": 9}}, "text": {"field": "sig"}}
        }
      ]
    }
  ]
}
